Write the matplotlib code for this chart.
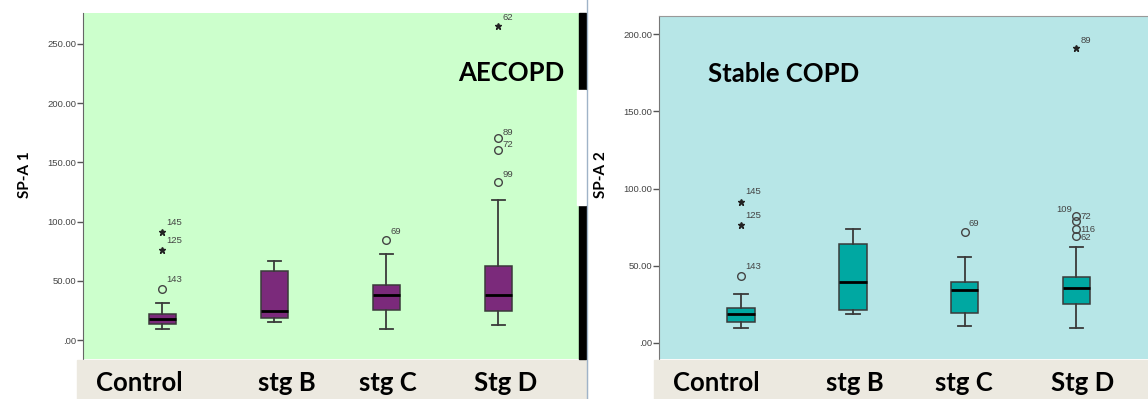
import matplotlib
matplotlib.use("Agg")
import matplotlib.pyplot as plt
from matplotlib.patches import Rectangle

# ---- data ----
categories = ["Control", "stg B", "stg C", "Stg D"]

# AECOPD / SP-A 1
aecopd_whislo = [9.5, 15, 9.5, 12.7]
aecopd_q1 = [13.5, 18.5, 25.3, 24.5]
aecopd_med = [18, 24.5, 38, 38]
aecopd_q3 = [22, 58, 46.5, 62.5]
aecopd_whishi = [31, 67, 72.6, 118]
aecopd_out_group = [1, 1, 1, 3, 4, 4, 4, 4]
aecopd_out_value = [43, 76, 91, 84.5, 133, 160, 170.6, 265]
aecopd_out_label = ["143", "125", "145", "69", "99", "72", "89", "62"]
aecopd_out_star = [False, True, True, False, False, False, False, True]

# Stable COPD / SP-A 2
stable_whislo = [9.9, 18.6, 10.8, 9.5]
stable_q1 = [13.8, 21.4, 19.2, 25.5]
stable_med = [18.6, 39.3, 34.1, 35.6]
stable_q3 = [22.7, 64.3, 39.5, 42.7]
stable_whishi = [31.7, 74, 55.5, 62.4]
stable_out_group = [1, 1, 1, 3, 4, 4, 4, 4, 4]
stable_out_value = [43.4, 76.2, 91.5, 71.7, 82, 79, 73.8, 69.3, 191.3]
stable_out_label = ["143", "125", "145", "69", "109", "72", "116", "62", "89"]
stable_out_star = [False, True, True, False, False, False, False, False, True]

yticks_left = [0, 50, 100, 150, 200, 250]
yticks_right = [0, 50, 100, 150, 200]

W, H = 1148, 399
fig = plt.figure(figsize=(W / 100, H / 100), dpi=100)


def px_axes(x0, y0, x1, y1):
    # pixel box (top-left origin) -> figure axes
    return fig.add_axes([x0 / W, 1 - y1 / H, (x1 - x0) / W, (y1 - y0) / H])


def fmt(v):
    s = f"{v:.2f}"
    return s[1:] if s.startswith("0") else s


def draw_panel(ax, lo, q1, med, q3, hi, grp, vals, labs, stars, face, bg,
               ylim, xlim, ticks, label_offsets):
    ax.set_facecolor(bg)
    stats = []
    for i in range(len(categories)):
        stats.append(dict(whislo=lo[i], q1=q1[i], med=med[i], q3=q3[i],
                          whishi=hi[i], fliers=[]))
    ax.bxp(stats, positions=range(1, len(categories) + 1), widths=0.245,
           capwidths=0.12, patch_artist=True, showfliers=False,
           boxprops=dict(facecolor=face, edgecolor="#3a3a3a", linewidth=1.1),
           medianprops=dict(color="black", linewidth=2),
           whiskerprops=dict(color="#3a3a3a", linewidth=1.3),
           capprops=dict(color="#3a3a3a", linewidth=1.3))
    for g, v, lab, st, off in zip(grp, vals, labs, stars, label_offsets):
        if st:
            ax.plot(g, v, marker="*", ms=4.5, color="#222222", mec="#222222")
        else:
            ax.plot(g, v, marker="o", ms=5.5, mfc="none", mec="#444444",
                    mew=1.0)
        ax.annotate(lab, (g, v), xytext=off, textcoords="offset points",
                    fontsize=6.8, color="#444444", family="Liberation Sans",
                    ha="right" if off[0] < 0 else "left", va="center")
    ax.set_xlim(*xlim)
    ax.set_ylim(*ylim)
    ax.set_xticks([])
    ax.set_yticks(ticks)
    ax.set_yticklabels([fmt(t) for t in ticks], fontsize=6.8,
                       color="#444444", family="Liberation Sans")
    ax.tick_params(axis="y", length=4, width=1, color="#555555", pad=1)


# beige category bands
fig.patches.append(Rectangle((77 / W, 0), (587 - 77) / W, 39 / H,
                             transform=fig.transFigure, color="#ece9e0",
                             zorder=0))
fig.patches.append(Rectangle((654 / W, 0), (W - 654) / W, 39 / H,
                             transform=fig.transFigure, color="#ece9e0",
                             zorder=0))

# left panel
axL = px_axes(83, 13, 579, 359)
left_offsets = [(3, 7), (3, 7), (3, 7), (3, 6), (3, 6), (3, 4), (3, 4),
                (3, 6)]
draw_panel(axL, aecopd_whislo, aecopd_q1, aecopd_med, aecopd_q3,
           aecopd_whishi, aecopd_out_group, aecopd_out_value,
           aecopd_out_label, aecopd_out_star, "#7b2a7b", "#ccffcc",
           (-16, 276), (0.29, 4.72), yticks_left, left_offsets)
for s in ["top", "right", "bottom"]:
    axL.spines[s].set_visible(False)
axL.spines["left"].set_color("#666666")
axL.text(4.59, 225, "AECOPD", fontsize=18.5, fontweight="bold",
         family="Lato", ha="right", va="center")

# right panel
axR = px_axes(659, 16, W, 359)
right_offsets = [(3, 7), (3, 7), (3, 7), (3, 6), (-3, 5), (3, 3), (3, 0),
                 (3, -1), (3, 5)]
draw_panel(axR, stable_whislo, stable_q1, stable_med, stable_q3,
           stable_whishi, stable_out_group, stable_out_value,
           stable_out_label, stable_out_star, "#00a8a2", "#b7e6e7",
           (-10.4, 211.8), (0.266, 4.64), yticks_right, right_offsets)
for s in ["right", "bottom"]:
    axR.spines[s].set_visible(False)
axR.spines["left"].set_color("#777777")
axR.spines["top"].set_color("#999999")
axR.text(0.70, 174.5, "Stable COPD", fontsize=18.5, fontweight="bold",
         family="Lato", ha="left", va="center")

# divider between the two pictures
fig.patches.append(Rectangle((579 / W, 1 - 359 / H), 7 / W, (359 - 13) / H,
                             transform=fig.transFigure, color="black",
                             zorder=3))
fig.patches.append(Rectangle((577 / W, 1 - 205 / H), 9 / W, 115 / H,
                             transform=fig.transFigure, color="white",
                             zorder=4))
fig.add_artist(plt.Line2D([587 / W, 587 / W], [0, 1], color="#9fb3c8",
                          lw=1, zorder=5))

# axis titles
fig.text(25 / W, 1 - 175 / H, "SP-A 1", rotation=90, fontsize=11,
         fontweight="bold", family="Lato", ha="center", va="center")
fig.text(601 / W, 1 - 175 / H, "SP-A 2", rotation=90, fontsize=11,
         fontweight="bold", family="Lato", ha="center", va="center")

# category labels in the beige bands
left_label_x = [139, 287, 388, 506]
right_label_x = [716, 855, 964, 1083]
for name, xl, xr in zip(categories, left_label_x, right_label_x):
    fig.text(xl / W, 1 - 383 / H, name, fontsize=18.5, fontweight="bold",
             family="Lato", ha="center", va="center")
    fig.text(xr / W, 1 - 383 / H, name, fontsize=18.5, fontweight="bold",
             family="Lato", ha="center", va="center")

fig.savefig("out.png", dpi=100)
